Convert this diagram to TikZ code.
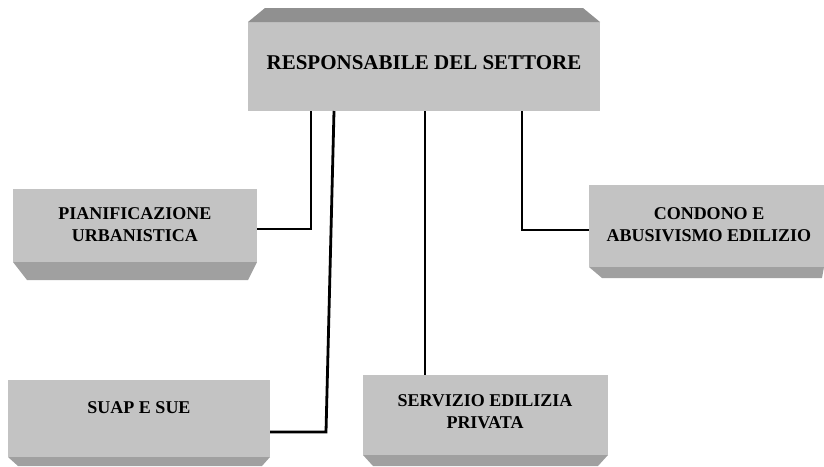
\documentclass[tikz,border=0pt]{standalone}
\usepackage{fontspec}
\setmainfont{Liberation Serif}
\usetikzlibrary{calc}
\definecolor{face}{HTML}{C3C3C3}
\definecolor{bevel}{HTML}{A0A0A0}
\definecolor{bevtop}{HTML}{909090}
\begin{document}
\begin{tikzpicture}[x=1pt,y=-1pt,
  face/.style={fill=face, draw=none, inner sep=0pt, outer sep=0pt, anchor=north west},
  lbl/.style={font=\bfseries\fontsize{18}{22}\selectfont, align=center, text=black},
  conn/.style={line width=2.8pt, black}]
\useasboundingbox (0,0) rectangle (824,466);
% boxes (front faces)
\node[face, minimum width=352pt, minimum height=89pt] (top) at (248,22) {};
\node[face, minimum width=244pt, minimum height=73pt] (pianbox) at (13,189) {};
\node[face, minimum width=235pt, minimum height=82pt] (condbox) at (589,185) {};
\node[face, minimum width=262pt, minimum height=77pt] (suapbox) at (8,380) {};
\node[face, minimum width=245pt, minimum height=80pt] (servbox) at (363,375) {};
% bevels
\fill[bevtop] (top.north west) -- ++(17,-14) -- ($(top.north east)+(-17,-14)$) -- (top.north east) -- cycle;
\fill[bevel] (pianbox.south west) -- (pianbox.south east) -- ++(-9,18) -- ($(pianbox.south west)+(14,18)$) -- cycle;
\fill[bevel] (condbox.south west) -- (condbox.south east) -- ++(-2,11) -- ($(condbox.south west)+(13,11)$) -- cycle;
\fill[bevel] (suapbox.south west) -- (suapbox.south east) -- ++(-8,9) -- ($(suapbox.south west)+(10,9)$) -- cycle;
\fill[bevel] (servbox.south west) -- (servbox.south east) -- ++(-10,11) -- ($(servbox.south west)+(10,11)$) -- cycle;
% labels
\node[lbl, font=\bfseries\fontsize{21}{24}\selectfont] (toplbl) at (424,63) {RESPONSABILE DEL SETTORE};
\node[lbl] (pian) at (135,225) {PIANIFICAZIONE\\URBANISTICA};
\node[lbl] (cond) at (709,225) {CONDONO E\\ABUSIVISMO EDILIZIO};
\node[lbl] (suap) at (139,408) {SUAP E SUE};
\node[lbl] (serv) at (485,412) {SERVIZIO EDILIZIA\\PRIVATA};
% connectors
\draw[conn] ($(pianbox.east)+(0,3.5)$) -| ($(top.south west)+(63,0)$);
\draw[conn] ($(top.south west)+(86,0)$) -- ($(suapbox.east)+(56,13.5)$) -- ($(suapbox.east)+(0,13.5)$);
\draw[conn] ($(top.south west)+(177,0)$) -- ($(servbox.north west)+(62,0)$);
\draw[conn] ($(top.south west)+(274,0)$) |- ($(condbox.west)+(0,4)$);
\end{tikzpicture}
\end{document}
